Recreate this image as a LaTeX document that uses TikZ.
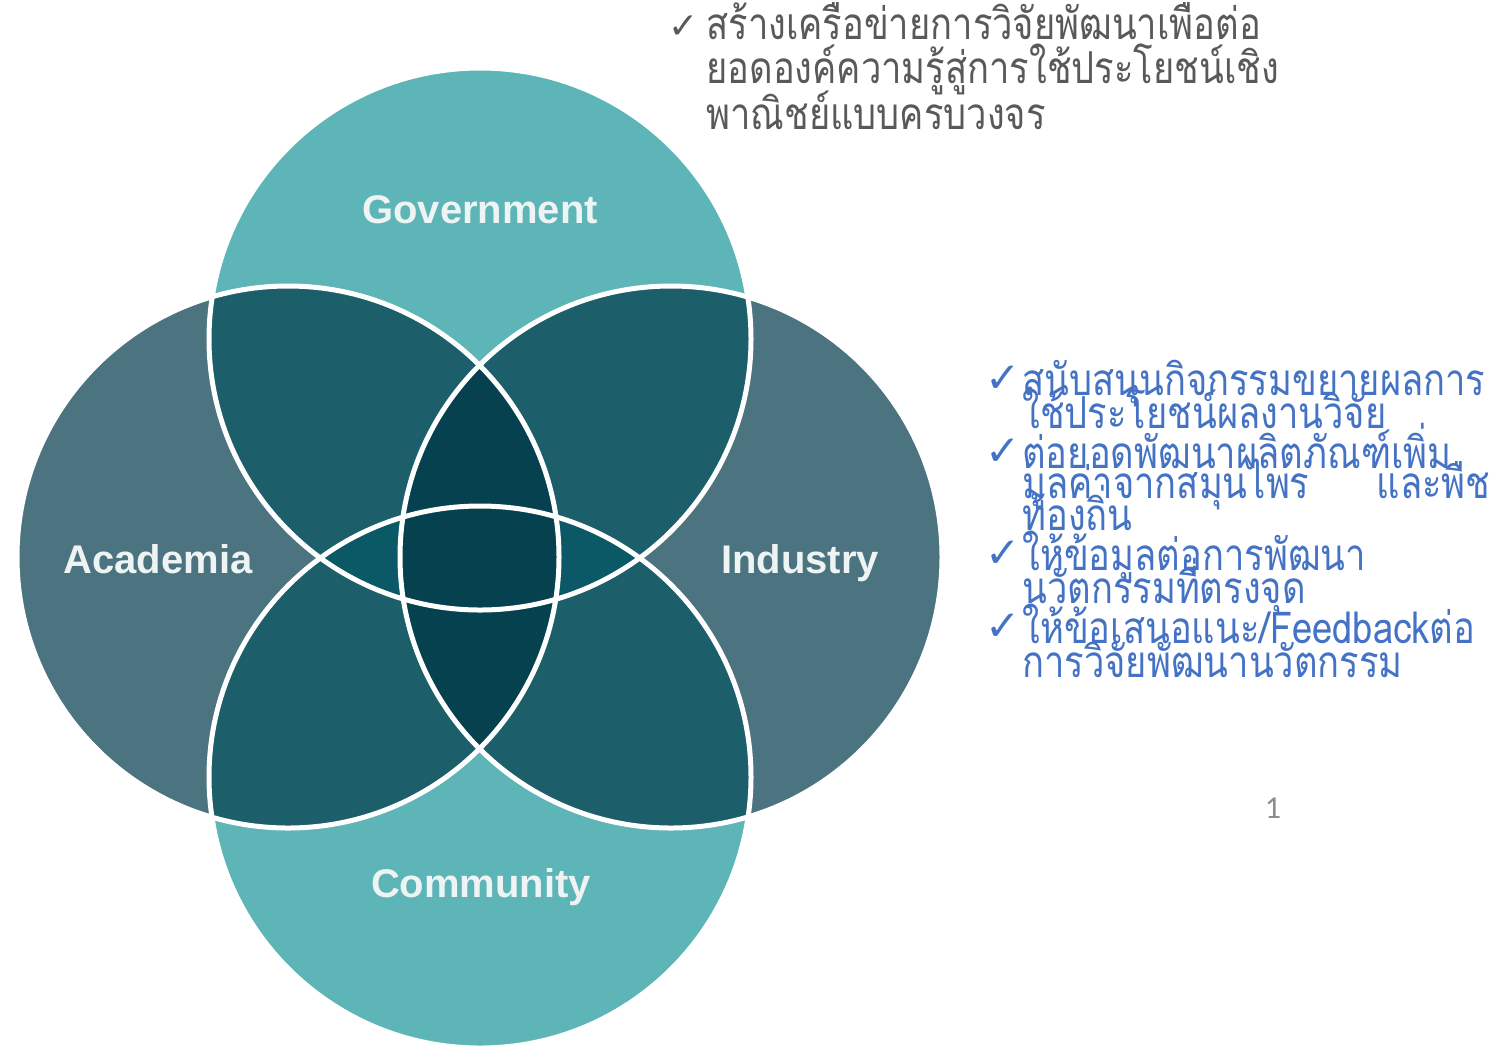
\documentclass[tikz,border=0pt]{standalone}
\usepackage{fontspec}
\setmainfont{Liberation Sans}
\newfontfamily\thaifont[Script=Thai,FakeStretch=0.825]{Loma}
\newfontfamily\symfont{DejaVu Sans}
\newfontfamily\numfont{Carlito}
\definecolor{lightteal}{HTML}{5DB5B8}
\definecolor{grayteal}{HTML}{4C7480}
\definecolor{midteal}{HTML}{1C5F6B}
\definecolor{lensgc}{HTML}{0B5866}
\definecolor{deepteal}{HTML}{06414F}
\definecolor{labelwhite}{HTML}{EEF3F4}
\definecolor{graytxt}{HTML}{595959}
\definecolor{bluetxt}{HTML}{4472C4}
\definecolor{numgray}{HTML}{8C8C8C}
\tikzset{
  ring/.style={draw=white, line width=2.5pt},
  circlabel/.style={anchor=base, text=labelwhite, inner sep=0pt, font=\bfseries\fontsize{20}{24}\selectfont},
  grayline/.style={anchor=base west, inner sep=0pt, text=graytxt, font=\thaifont\fontsize{22}{24}\selectfont},
  blueline/.style={anchor=base west, inner sep=0pt, text=bluetxt, font=\thaifont\fontsize{22}{24}\selectfont},
  graycheck/.style={anchor=base west, inner sep=0pt, text=graytxt, font=\symfont\fontsize{18}{20}\selectfont},
  bluecheck/.style={anchor=base west, inner sep=0pt, text=bluetxt, font=\symfont\fontsize{21}{22}\selectfont},
}
\begin{document}
\begin{tikzpicture}[x=0.5pt,y=-0.5pt]
\useasboundingbox (0,0) rectangle (1494,1046);
\def\R{271}
\coordinate (G) at (480,339);
\coordinate (C) at (480,777);
\coordinate (A) at (288,557);
\coordinate (I) at (671,557);
% single circles
\fill[lightteal] (G) circle[radius=\R];
\fill[lightteal] (C) circle[radius=\R];
\fill[grayteal] (A) circle[radius=\R];
\fill[grayteal] (I) circle[radius=\R];
% pairwise overlaps
\begin{scope}
  \clip (G) circle[radius=\R];
  \fill[midteal] (A) circle[radius=\R];
  \fill[midteal] (I) circle[radius=\R];
\end{scope}
\begin{scope}
  \clip (C) circle[radius=\R];
  \fill[midteal] (A) circle[radius=\R];
  \fill[midteal] (I) circle[radius=\R];
\end{scope}
\begin{scope}
  \clip (G) circle[radius=\R];
  \fill[lensgc] (C) circle[radius=\R];
\end{scope}
\begin{scope}
  \clip (A) circle[radius=\R];
  \fill[deepteal] (I) circle[radius=\R];
\end{scope}
% white outlines
\draw[ring] (G) circle[radius=\R];
\draw[ring] (C) circle[radius=\R];
\draw[ring] (A) circle[radius=\R];
\draw[ring] (I) circle[radius=\R];
% circle labels
\node[circlabel] (gov) at (480,223) {Government};
\node[circlabel] (acad) at (158,573) {Academia};
\node[circlabel] (ind) at (800,573) {Industry};
\node[circlabel] (comm) at (481,897) {Community};
% top text
\node[graycheck] (c0) at (668,38) {✓};
\node[grayline] (t1) at (706,39) {สร้างเครือข่ายการวิจัยพัฒนาเพื่อต่อ};
\node[grayline] (t2) at (706,83) {ยอดองค์ความรู้สู่การใช้ประโยชน์เชิง};
\node[grayline] (t3) at (706,129) {พาณิชย์แบบครบวงจร};
% right text
\node[bluecheck] (c1) at (985,392) {✓};
\node[blueline] (b1) at (1022,395) {สนับสนุนกิจกรรมขยายผลการ};
\node[blueline] (b2) at (1022,428) {ใช้ประโยชน์ผลงานวิจัย};
\node[bluecheck] (c2) at (985,465) {✓};
\node[blueline] (b3) at (1022,468) {ต่อยอดพัฒนาผลิตภัณฑ์เพิ่ม};
\node[blueline] (b4) at (1022,498) {\makebox[234pt][l]{มูลค่าจากสมุนไพร\hfill และพืช}};
\node[blueline] (b5) at (1022,530) {ท้องถิ่น};
\node[bluecheck] (c3) at (985,567) {✓};
\node[blueline] (b6) at (1022,570) {ให้ข้อมูลต่อการพัฒนา};
\node[blueline] (b7) at (1022,603) {นวัตกรรมที่ตรงจุด};
\node[bluecheck] (c4) at (985,640) {✓};
\node[blueline] (b8) at (1022,643) {ให้ข้อเสนอแนะ/Feedbackต่อ};
\node[blueline] (b9) at (1022,677) {การวิจัยพัฒนานวัตกรรม};
% page number
\node[anchor=base, inner sep=0pt, text=numgray, font=\numfont\fontsize{16}{18}\selectfont] (pnum) at (1273,818) {1};
\end{tikzpicture}
\end{document}
